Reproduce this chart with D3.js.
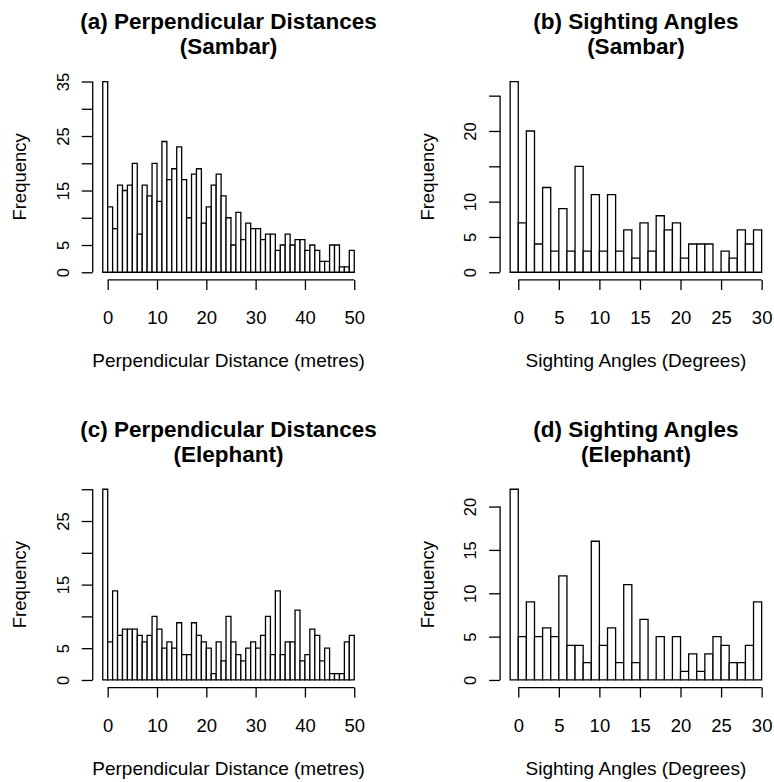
<!DOCTYPE html>
<html>
<head>
<meta charset="utf-8">
<script src="https://cdn.jsdelivr.net/npm/d3@7"></script>
<style>
    body { margin: 0; background: #fff; }
    text { font-family: "Liberation Sans", Arial, Helvetica, sans-serif; fill: #000; }
</style>
</head>
<body>
<div id="chart"></div>
<script>

// frequencies per 1-unit bin, first bin is [-1, 0]
var sambarDist = [35, 12, 8, 16, 15, 16, 20, 7, 16, 14, 20, 13, 24, 17, 19, 23, 17, 10, 18, 19,
    9, 12, 16, 18, 14, 10, 5, 11, 6, 9, 8, 8, 6, 7, 7, 4, 5, 7, 5, 6,
    6, 4, 5, 4, 2, 2, 5, 5, 1, 1, 4];
var sambarAngle = [27, 7, 20, 4, 12, 3, 9, 3, 15, 3, 11, 3, 11, 3, 6, 2, 7, 3, 8, 6,
    7, 2, 4, 4, 4, 0, 3, 2, 6, 4, 6];
var elephantDist = [30, 6, 14, 7, 8, 8, 8, 7, 6, 7, 10, 8, 5, 6, 5, 9, 4, 4, 9, 7,
    6, 5, 1, 6, 3, 10, 6, 4, 3, 5, 6, 5, 7, 10, 4, 14, 4, 6, 6, 11,
    3, 4, 8, 7, 3, 5, 1, 1, 1, 6, 7];
var elephantAngle = [22, 5, 9, 5, 6, 5, 12, 4, 4, 2, 16, 4, 6, 2, 11, 2, 7, 0, 5, 0,
    5, 1, 3, 1, 3, 5, 4, 2, 2, 4, 9];

var binStart = -1;

var distTicks = [0, 10, 20, 30, 40, 50];
var angleTicks = [0, 5, 10, 15, 20, 25, 30];

var yTicksA = [0, 5, 10, 15, 20, 25, 30, 35], yLabelsA = [0, 5, 15, 25, 35];
var yTicksB = [0, 5, 10, 15, 20, 25], yLabelsB = [0, 5, 10, 20];
var yTicksC = [0, 5, 10, 15, 20, 25, 30], yLabelsC = [0, 5, 15, 25];
var yTicksD = [0, 5, 10, 15, 20], yLabelsD = [0, 5, 10, 15, 20];

var titles = [
    ["(a) Perpendicular Distances", "(Sambar)"],
    ["(b) Sighting Angles", "(Sambar)"],
    ["(c) Perpendicular Distances", "(Elephant)"],
    ["(d) Sighting Angles", "(Elephant)"]
];
var xLabels = ["Perpendicular Distance (metres)", "Sighting Angles (Degrees)"];

// plot regions (pixels)
var cols = [{left: 92.7, right: 364.3}, {left: 500.1, right: 771.7}];
var rows = [{top: 73.9, bottom: 279.9}, {top: 481.6, bottom: 687.6}];

var panels = [
    {counts: sambarDist, xt: distTicks, yt: yTicksA, yl: yLabelsA, title: titles[0], xlab: xLabels[0], c: 0, r: 0},
    {counts: sambarAngle, xt: angleTicks, yt: yTicksB, yl: yLabelsB, title: titles[1], xlab: xLabels[1], c: 1, r: 0},
    {counts: elephantDist, xt: distTicks, yt: yTicksC, yl: yLabelsC, title: titles[2], xlab: xLabels[0], c: 0, r: 1},
    {counts: elephantAngle, xt: angleTicks, yt: yTicksD, yl: yLabelsD, title: titles[3], xlab: xLabels[1], c: 1, r: 1}
];

var svg = d3.select("#chart").append("svg")
    .attr("width", 774)
    .attr("height", 782);

svg.append("rect").attr("width", 774).attr("height", 782).style("fill", "white");

panels.forEach(function (p) {
    var col = cols[p.c], row = rows[p.r];

    var lo = binStart, hi = binStart + p.counts.length;
    var padX = 0.04 * (hi - lo);
    var x = d3.scaleLinear().domain([lo - padX, hi + padX]).range([col.left, col.right]);

    var maxY = d3.max(p.counts);
    var y = d3.scaleLinear().domain([-0.04 * maxY, 1.04 * maxY]).range([row.bottom, row.top]);

    var g = svg.append("g");

    //bars (paths so that empty bins still show a line on zero)
    g.selectAll(".bar")
        .data(p.counts)
        .enter().append("path")
        .attr("class", "bar")
        .attr("d", function (d, i) {
            var x0 = x(binStart + i), x1 = x(binStart + i + 1);
            return "M" + x0 + "," + y(0) + "V" + y(d) + "H" + x1 + "V" + y(0) + "Z";
        })
        .style("fill", "white")
        .style("stroke", "black")
        .style("stroke-width", 1.3);

    //x axis
    var xAxis = g.append("g")
        .attr("transform", "translate(0," + row.bottom + ")")
        .call(d3.axisBottom(x).tickValues(p.xt).tickSize(10).tickSizeOuter(0));
    xAxis.select(".domain").remove();
    xAxis.append("line")
        .attr("x1", x(p.xt[0])).attr("x2", x(p.xt[p.xt.length - 1]))
        .attr("stroke", "black").attr("stroke-width", 1.3);
    xAxis.selectAll(".tick line").attr("stroke-width", 1.3);
    xAxis.selectAll(".tick text")
        .attr("y", 44.5).attr("dy", 0)
        .style("font-size", "18.5px")
        .style("font-family", "Liberation Sans, Arial, sans-serif")
        .attr("fill", "black");

    //y axis
    var yAxis = g.append("g")
        .attr("transform", "translate(" + col.left + ",0)")
        .call(d3.axisLeft(y).tickValues(p.yt).tickSize(11).tickSizeOuter(0)
            .tickFormat(function (d) { return p.yl.indexOf(d) >= 0 ? d : "" }));
    yAxis.select(".domain").remove();
    yAxis.append("line")
        .attr("y1", y(p.yt[0])).attr("y2", y(p.yt[p.yt.length - 1]))
        .attr("stroke", "black").attr("stroke-width", 1.3);
    yAxis.selectAll(".tick line").attr("stroke-width", 1.3);
    yAxis.selectAll(".tick text")
        .attr("transform", "rotate(-90)")
        .attr("x", 0).attr("y", -24).attr("dy", 0)
        .attr("text-anchor", "middle")
        .style("font-size", "16.5px")
        .style("font-family", "Liberation Sans, Arial, sans-serif")
        .attr("fill", "black");

    var cx = (col.left + col.right) / 2;
    var cy = (row.top + row.bottom) / 2;

    //two-line title
    var title = g.append("text")
        .attr("text-anchor", "middle")
        .style("font-size", "22.5px").style("font-weight", "bold");
    title.append("tspan")
        .attr("x", cx).attr("y", row.top - 45)
        .text(p.title[0]);
    title.append("tspan")
        .attr("x", cx).attr("y", row.top - 19.5)
        .text(p.title[1]);

    //axis labels
    g.append("text")
        .attr("x", cx).attr("y", row.bottom + 87)
        .attr("text-anchor", "middle")
        .style("font-size", "19px")
        .text(p.xlab);
    g.append("text")
        .attr("transform", "translate(" + (col.left - 66.5) + "," + cy + ") rotate(-90)")
        .attr("text-anchor", "middle")
        .style("font-size", "18.5px")
        .text("Frequency");
});

</script>
</body>
</html>
